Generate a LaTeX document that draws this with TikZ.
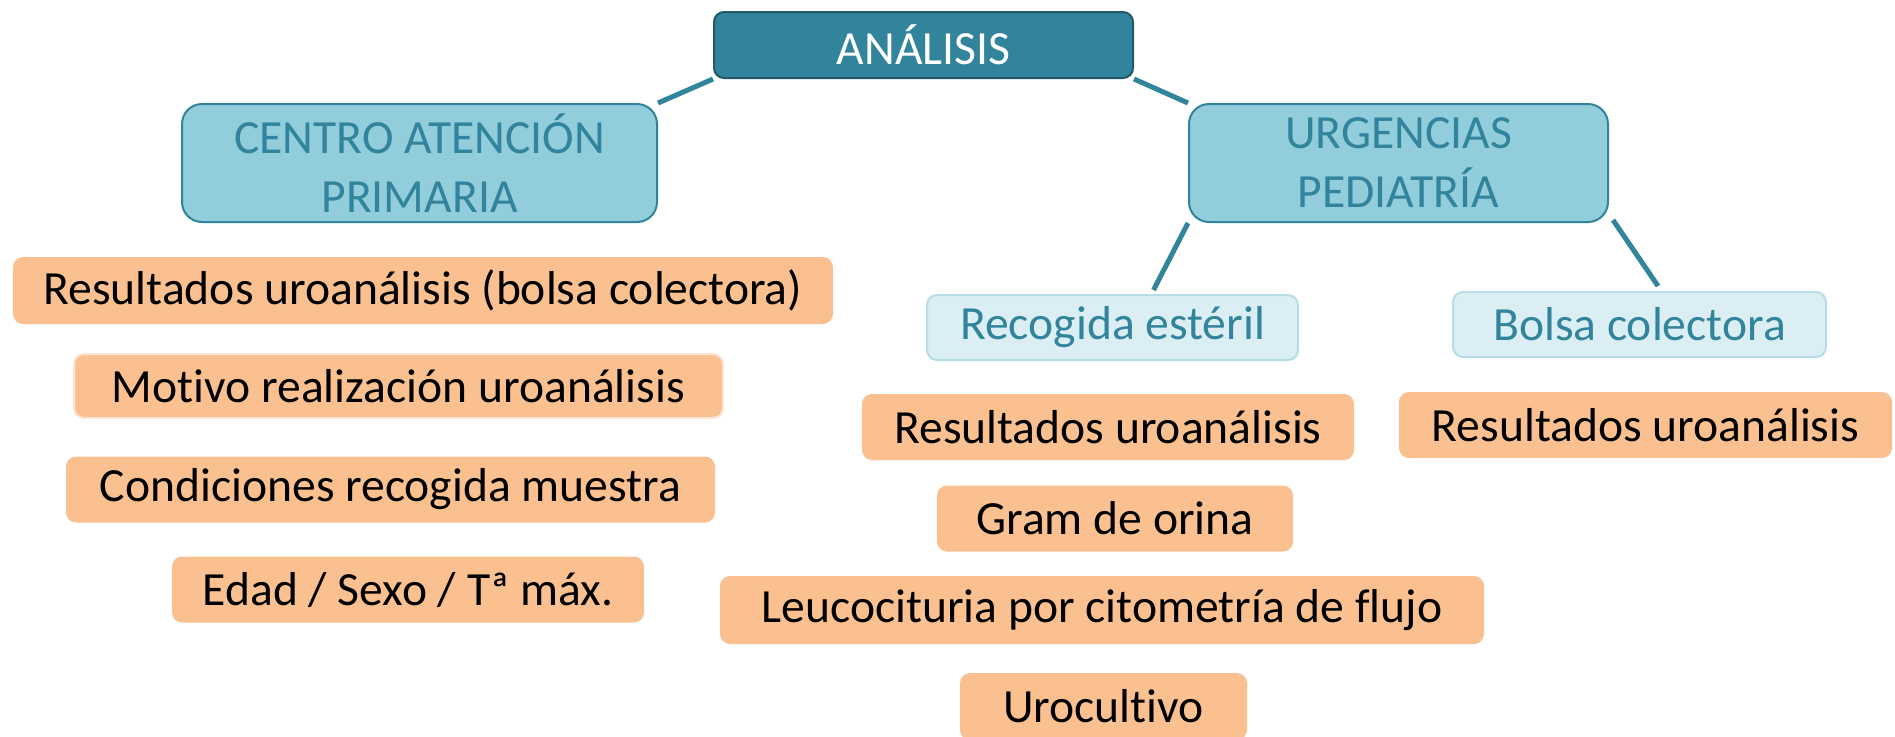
\documentclass[tikz,border=0pt]{standalone}
\usepackage{fontspec}
\setmainfont[Ligatures=NoCommon]{Carlito}
\usepackage{tikz}
\usetikzlibrary{positioning,calc}
\definecolor{tealdark}{HTML}{31849B}
\definecolor{tealedge}{HTML}{215968}
\definecolor{aqua}{HTML}{92CDDC}
\definecolor{paleaqua}{HTML}{DAEEF3}
\definecolor{paleedge}{HTML}{B7DEE8}
\definecolor{peach}{HTML}{FAC090}
\definecolor{peachedge}{HTML}{FCE4D6}

\begin{document}
\begin{tikzpicture}[x=0.5pt,y=-0.5pt,font=\fontsize{23.8pt}{29.5pt}\selectfont,inner sep=0pt,
  rootbox/.style={draw=tealedge,line width=1pt,fill=tealdark,text=white,rounded corners=5pt,minimum height=33pt},
  sitebox/.style={draw=tealdark,line width=1pt,fill=aqua,text=tealdark,rounded corners=10pt,align=center,minimum height=59pt},
  samplebox/.style={draw=paleedge,line width=1pt,fill=paleaqua,text=tealdark,rounded corners=5pt,minimum height=32.5pt},
  itembox/.style={fill=peach,text=black,rounded corners=5pt,minimum height=33pt},
  branch/.style={draw=tealdark,line width=2.5pt}]
  \useasboundingbox (0,0) rectangle (1895,736);
  \node [rootbox,minimum width=209.5pt] (ana) at (923.5,45) {ANÁLISIS};
  \node [sitebox,minimum width=237.5pt] (cap) at (419.5,163) {CENTRO ATENCIÓN\\PRIMARIA};
  \node [sitebox,minimum width=209.5pt] (urg) at (1398.5,163) {URGENCIAS\\PEDIATRÍA};
  \node [samplebox,minimum width=185.5pt] (est) at (1112.5,327.5) {Recogida estéril};
  \node [samplebox,minimum width=186.5pt] (bol) at (1639.5,324.5) {Bolsa colectora};
  \draw [branch] (ana.south west) -- (cap.north east);
  \draw [branch] (ana.south east) -- (urg.north west);
  \draw [branch] (urg.south west) -- ([xshift=20.5pt,yshift=2pt]est.north);
  \draw [branch] ([xshift=2pt,yshift=1.5pt]urg.south east) -- ([xshift=9.25pt,yshift=2.5pt]bol.north);
  \node [itembox,minimum width=410pt,minimum height=33.5pt] (cap1) at (423,290.5) {Resultados uroanálisis (bolsa colectora)};
  \node [itembox,draw=peachedge,line width=1pt,minimum width=324.5pt,minimum height=32pt] (cap2) at (398.5,386) {Motivo realización uroanálisis};
  \node [itembox,minimum width=324.5pt] (cap3) at (390.5,489.5) {Condiciones recogida muestra};
  \node [itembox,minimum width=236pt] (cap4) at (408,589.5) {Edad / Sexo / Tª máx.};
  \node [itembox,minimum width=246pt] (est1) at (1108,427) {Resultados uroanálisis\ };
  \node [itembox,minimum width=178pt] (est2) at (1115,518.5) {Gram de orina};
  \node [itembox,minimum width=382pt,minimum height=34pt] (est3) at (1102,610) {Leucocituria por citometría de flujo};
  \node [itembox,minimum width=143.5pt,minimum height=33.5pt] (est4) at (1103.5,706.5) {Urocultivo};
  \node [itembox,minimum width=246.5pt] (bol1) at (1645.5,425) {Resultados uroanálisis};
\end{tikzpicture}
\end{document}
